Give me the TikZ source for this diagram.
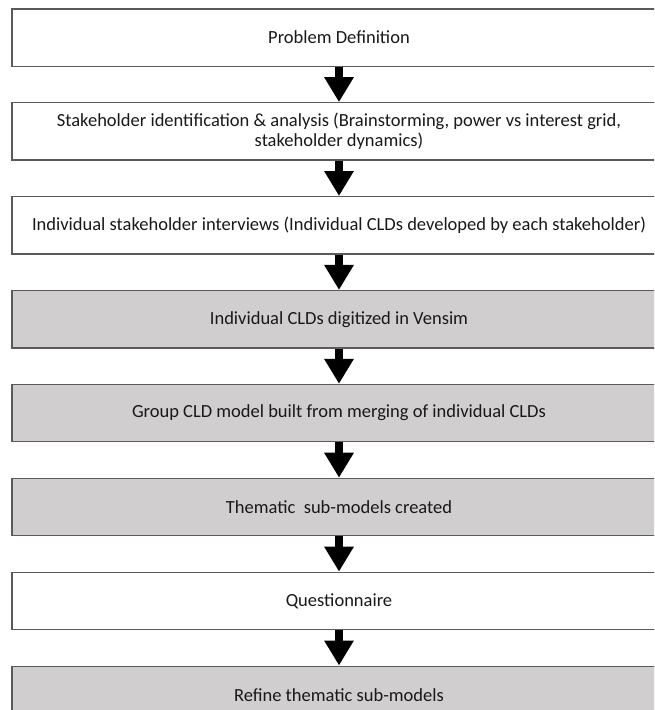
\documentclass[tikz,border=0pt]{standalone}
\usepackage{fontspec}
\setmainfont{Carlito}
\usepackage{tikz}
\usetikzlibrary{arrows.meta,positioning}
\definecolor{boxgrey}{RGB}{208,206,206}
\definecolor{boxline}{RGB}{90,90,90}
\newcommand*{\BoxGap}{35.3pt}

\begin{document}
\begin{tikzpicture}[
  node distance=\BoxGap,
  stepbox/.style={draw=boxline,line width=1.3pt,fill=white,minimum width=654pt,
    minimum height=57.3pt,align=center,font=\fontsize{18.5}{20.5}\selectfont,text=black!90},
  greybox/.style={stepbox,fill=boxgrey},
  bigarrow/.style={line width=8.5pt,-{Triangle[width=28pt,length=25pt]}}]
\clip (0,0) rectangle (654pt,-710pt);
\node[stepbox] (def) at (339pt,-37.5pt) {Problem Definition};
\node[stepbox,below=of def] (stake) {Stakeholder identification \& analysis (Brainstorming, power vs interest grid,\\ stakeholder dynamics)};
\node[stepbox,below=of stake] (interv) {Individual stakeholder interviews (Individual CLDs developed by each stakeholder)};
\node[greybox,below=of interv] (vensim) {Individual CLDs digitized in Vensim};
\node[greybox,below=of vensim] (group) {Group CLD model built from merging of individual CLDs};
\node[greybox,below=of group] (thematic) {Thematic\ \ sub-models created};
\node[stepbox,below=of thematic] (quest) {Questionnaire};
\node[greybox,below=of quest] (refine) {Refine thematic sub-models};
\draw[bigarrow] (def) -- (stake);
\draw[bigarrow] (stake) -- (interv);
\draw[bigarrow] (interv) -- (vensim);
\draw[bigarrow] (vensim) -- (group);
\draw[bigarrow] (group) -- (thematic);
\draw[bigarrow] (thematic) -- (quest);
\draw[bigarrow] (quest) -- (refine);
\end{tikzpicture}
\end{document}
